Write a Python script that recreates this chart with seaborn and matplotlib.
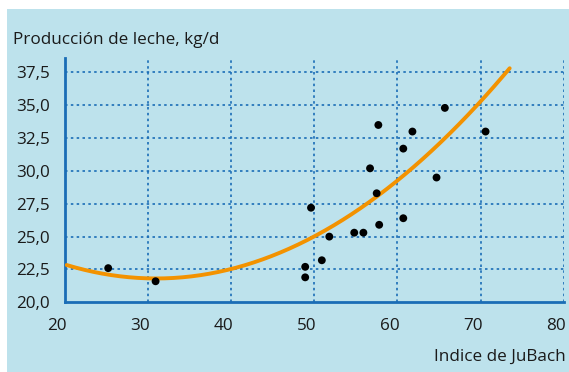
import numpy as np
import pandas as pd
import matplotlib
matplotlib.use("Agg")
import matplotlib.pyplot as plt
import matplotlib.transforms as mtransforms
from matplotlib.patches import Rectangle
import seaborn as sns

# Cow observations: JuBach index vs. milk yield (kg/d)
jubach = [25.2, 30.9, 48.9, 48.9, 49.6, 50.9, 51.8, 54.8, 55.9, 56.7,
          57.5, 57.7, 57.8, 60.7, 60.7, 61.8, 64.7, 65.7, 70.6]
leche = [22.6, 21.6, 22.7, 21.9, 27.2, 23.2, 25.0, 25.3, 25.3, 30.2,
         28.3, 33.5, 25.9, 31.7, 26.4, 33.0, 29.5, 34.8, 33.0]

# Quadratic trend (c2, c1, c0) and the span it is drawn over
trend_coef = [0.008844, -0.5476, 30.29]
trend_span = [20.2, 73.5]

x_ticks = [20, 30, 40, 50, 60, 70, 80]
y_ticks = [20.0, 22.5, 25.0, 27.5, 30.0, 32.5, 35.0, 37.5]
y_labels = ["20,0", "22,5", "25,0", "27,5", "30,0", "32,5", "35,0", "37,5"]

BG = "#bde2ec"
BLUE = "#1a6db6"
ORANGE = "#f39200"
FS = 12.3

sns.set_theme(style="white")
plt.rcParams["font.family"] = ["Open Sans", "DejaVu Sans"]

fig = plt.figure(figsize=(5.69, 3.72), dpi=100)
fig.patch.set_facecolor(BG)
# thin white margin along the top and left edges
fig.patches.append(Rectangle((0, 1 - 9 / 372), 1, 9 / 372, transform=fig.transFigure,
                             facecolor="white", edgecolor="none"))
fig.patches.append(Rectangle((0, 0), 7 / 569, 1, transform=fig.transFigure,
                             facecolor="white", edgecolor="none"))

ax = fig.add_axes([0.1142, 0.1874, 0.8765, 0.6567])
ax.set_facecolor(BG)

df = pd.DataFrame({"jubach": jubach, "leche": leche})

xs = np.linspace(trend_span[0], trend_span[1], 200)
fit = pd.DataFrame({"x": xs, "y": np.polyval(trend_coef, xs)})
sns.lineplot(data=fit, x="x", y="y", color=ORANGE, linewidth=2.8, ax=ax, zorder=3)

sns.scatterplot(data=df, x="jubach", y="leche", color="black", s=32,
                edgecolor="none", ax=ax, zorder=4)

ax.set_xlim(20, 80)
ax.set_ylim(20, 38.6)
ax.set_xticks(x_ticks)
ax.set_yticks(y_ticks)
ax.set_yticklabels(y_labels)
ax.set_xlabel("")
ax.set_ylabel("")

for s in ["top", "right"]:
    ax.spines[s].set_visible(False)
for s in ["left", "bottom"]:
    ax.spines[s].set_color(BLUE)
    ax.spines[s].set_linewidth(2)

ax.tick_params(axis="both", direction="out", length=7, width=2, color=BLUE,
               labelsize=FS, labelcolor="#1a1a1a")
ax.tick_params(axis="y", pad=4)
ax.tick_params(axis="x", pad=4)

# x labels sit slightly left of their ticks
shift = mtransforms.ScaledTranslation(-8 / 100, 0, fig.dpi_scale_trans)
for lab in ax.get_xticklabels():
    lab.set_transform(lab.get_transform() + shift)

for xv in x_ticks[1:]:
    ax.axvline(xv, color=BLUE, linewidth=1.2, linestyle=(0, (1.5, 2)), zorder=1)
for yv in y_ticks[1:]:
    ax.axhline(yv, color=BLUE, linewidth=1.2, linestyle=(0, (1.5, 2)), zorder=1)

fig.text(13 / 569, 1 - 40 / 372, "Producción de leche, kg/d", fontsize=FS,
         color="#1a1a1a", ha="left", va="center")
fig.text(566 / 569, 1 - 357 / 372, "Indice de JuBach", fontsize=FS,
         color="#1a1a1a", ha="right", va="center")

fig.savefig("out.png", dpi=100, facecolor=fig.get_facecolor())
